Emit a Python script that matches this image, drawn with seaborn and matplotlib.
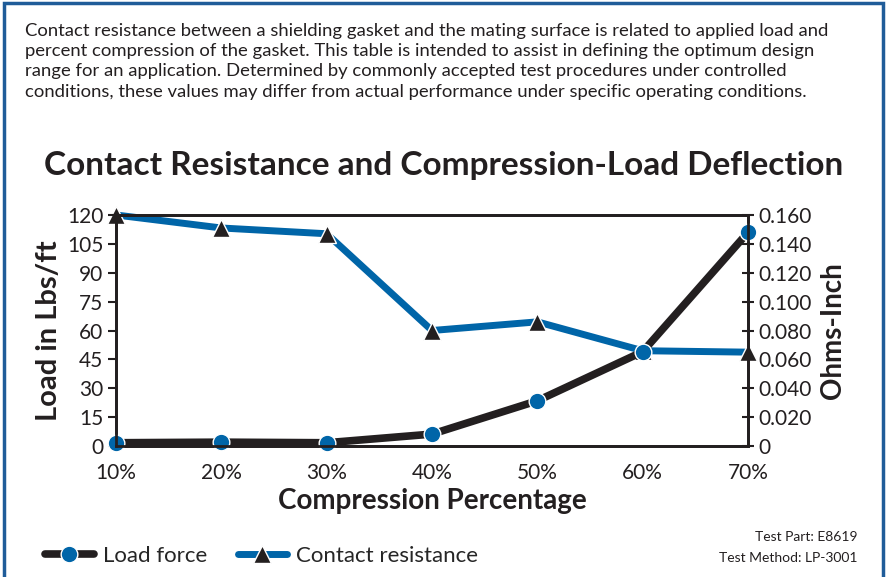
import matplotlib
matplotlib.use('Agg')
import matplotlib.pyplot as plt
import seaborn as sns
import pandas as pd
from matplotlib.patches import Rectangle

sns.set_style('white')
plt.rcParams['font.family'] = ['Lato', 'DejaVu Sans']

# data
compression = [10, 20, 30, 40, 50, 60, 70]
tick_labels = ['10%', '20%', '30%', '40%', '50%', '60%', '70%']
load_force = [1.7, 2.0, 1.7, 6.2, 23.5, 49, 111]
contact_resistance = [0.160, 0.151, 0.147, 0.080, 0.086, 0.066, 0.065]

load_ticks = [0, 15, 30, 45, 60, 75, 90, 105, 120]
ohm_ticks = [0, 0.02, 0.04, 0.06, 0.08, 0.10, 0.12, 0.14, 0.16]
ohm_labels = ['0', '0.020', '0.040', '0.060', '0.080', '0.100', '0.120', '0.140', '0.160']

df = pd.DataFrame({'Compression': compression, 'Load': load_force, 'Resistance': contact_resistance})

BLUE = '#0065A8'
BLACK = '#231F20'

fig = plt.figure(figsize=(8.87, 5.77), dpi=100)
ax = fig.add_axes([0.1308, 0.227, 0.7125, 0.4004])
ax2 = ax.twinx()

sns.lineplot(data=df, x='Compression', y='Load', ax=ax, color=BLACK, linewidth=5.5,
             marker='o', markersize=12, markerfacecolor=BLUE, markeredgecolor='white',
             markeredgewidth=1, label='Load force', legend=False, clip_on=False)
sns.lineplot(data=df, x='Compression', y='Resistance', ax=ax2, color=BLUE, linewidth=5,
             marker='^', markersize=13, markerfacecolor=BLACK, markeredgecolor='white',
             markeredgewidth=1, label='Contact resistance', legend=False, clip_on=False)

ax.set_xlim(10, 70)
ax.set_ylim(0, 120)
ax2.set_ylim(0, 0.16)
ax.set_xticks(compression)
ax.set_xticklabels(tick_labels)
ax.set_yticks(load_ticks)
ax.set_yticklabels([str(t) for t in load_ticks])
ax2.set_yticks(ohm_ticks)
ax2.set_yticklabels(ohm_labels)

for a in (ax, ax2):
    for s in a.spines.values():
        s.set_color(BLACK)
        s.set_linewidth(2)
ax.tick_params(axis='y', direction='out', length=6, width=1.5, color=BLACK, labelsize=15, labelcolor=BLACK, pad=3)
ax.tick_params(axis='x', direction='in', length=9, width=1.5, color=BLACK, labelsize=15, labelcolor=BLACK, pad=12)
ax2.tick_params(axis='y', direction='inout', length=9, width=1.5, color=BLACK, labelsize=15, labelcolor=BLACK, pad=3)

ax.set_xlabel('Compression Percentage', fontsize=20, fontweight='bold', color=BLACK, labelpad=4)
ax.set_ylabel('Load in Lbs/ft', fontsize=21, fontweight='bold', color=BLACK, labelpad=4)
ax2.set_ylabel('Ohms-Inch', fontsize=20, fontweight='bold', color=BLACK, labelpad=6)
ax.set_zorder(ax2.get_zorder() + 1)
ax.patch.set_visible(False)

fig.text(0.5, 0.714, 'Contact Resistance and Compression-Load Deflection',
         ha='center', va='center', fontsize=24, fontweight='bold', color=BLACK)

para = ('Contact resistance between a shielding gasket and the mating surface is related to applied load and\n'
        'percent compression of the gasket. This table is intended to assist in defining the optimum design\n'
        'range for an application. Determined by commonly accepted test procedures under controlled\n'
        'conditions, these values may differ from actual performance under specific operating conditions.')
fig.text(0.028, 0.96, para, ha='left', va='top', fontsize=13.3, color=BLACK, linespacing=1.32)

fig.text(0.967, 0.07, 'Test Part: E8619', ha='right', va='center', fontsize=10, color=BLACK)
fig.text(0.967, 0.033, 'Test Method: LP-3001', ha='right', va='center', fontsize=10, color=BLACK)

h1, l1 = ax.get_legend_handles_labels()
h2, l2 = ax2.get_legend_handles_labels()
fig.legend(h1 + h2, l1 + l2, loc='center left', bbox_to_anchor=(0.028, 0.036), ncol=2,
           frameon=False, fontsize=16, handlelength=2.2, columnspacing=1.4, handletextpad=0.4)

fig.patches.append(Rectangle((0.004, -0.05), 0.992, 1.045, transform=fig.transFigure,
                             fill=False, edgecolor='#1F5C99', linewidth=2.5))

fig.savefig('out.png', dpi=100)
